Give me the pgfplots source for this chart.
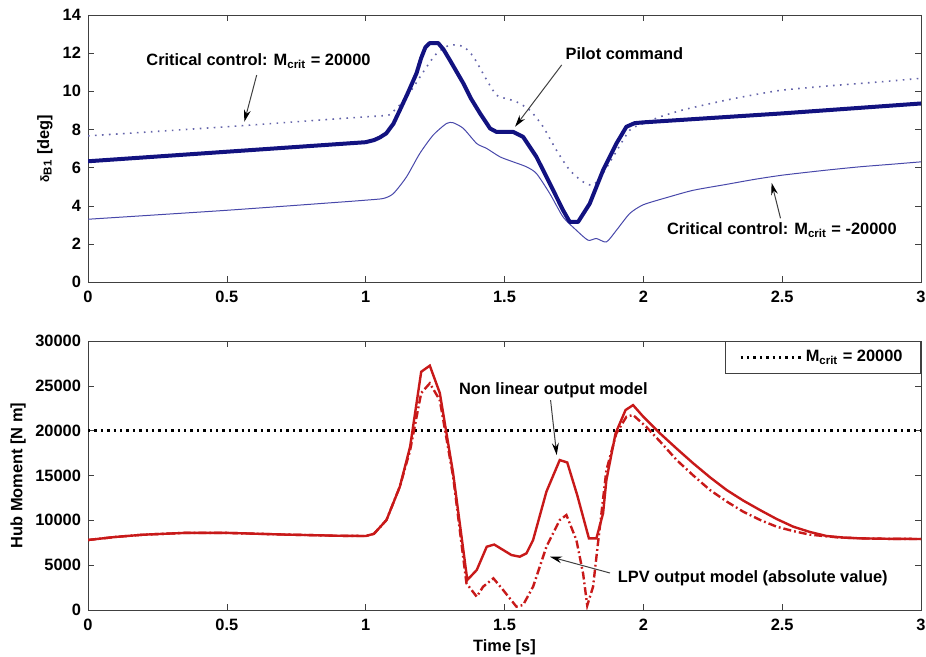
\documentclass[border=0pt]{standalone}
\usepackage{fontspec}
\setmainfont{Liberation Sans}
\usepackage{pgfplots}
\pgfplotsset{compat=1.18}
\usetikzlibrary{arrows.meta}

\definecolor{pilot}{RGB}{18,18,128}
\definecolor{thinb}{RGB}{72,72,170}
\definecolor{dotb}{RGB}{100,100,170}
\definecolor{hubred}{RGB}{200,25,25}

\newcommand{\lbl}{\fontsize{8.2}{9.5}\selectfont\bfseries}

\tikzset{
  arr/.style={draw=black!75, line width=0.5pt, -{Stealth[length=6pt,width=3.4pt,black]}},
}
\pgfplotsset{
  mstyle/.style={
    scale only axis,
    xmin=0, xmax=3,
    xtick={0,0.5,1,1.5,2,2.5,3},
    tick pos=both,
    tick align=inside,
    major tick length=3pt,
    axis line style={black!75},
    tick style={black!75},
    tick label style={font=\lbl},
    label style={font=\lbl},
    /pgf/number format/assume math mode=true,
    scaled y ticks=false,
    yticklabel style={/pgf/number format/.cd, fixed, 1000 sep={}},
    xticklabel style={yshift=-1pt},
  },
}

\begin{document}
\begin{tikzpicture}
\path[use as bounding box] (0pt,0pt) rectangle (463pt,328.5pt);

% upper panel: blade angle
\begin{axis}[mstyle,
  at={(44pt,187.5pt)}, anchor=south west,
  width=416.5pt, height=133.5pt,
  ymin=0, ymax=14, ytick={0,2,...,14},
  ylabel={{\fontsize{6}{7}\selectfont δ}\textsubscript{B1} [deg]},
  ylabel style={at={(axis description cs:-0.0516,0.5)}, anchor=center},
]
\addplot[dotb, line width=0.8pt, dash pattern=on 0.8pt off 2.7pt, smooth, tension=0.4] coordinates {
(0,7.66) (0.5,8.14) (0.9,8.56) (1.0,8.66) (1.083,8.75) (1.1,8.95) (1.13,9.4) (1.16,9.95)
(1.22,11.29) (1.256,11.99) (1.303,12.42) (1.352,12.34) (1.388,11.81) (1.436,10.59)
(1.471,9.8) (1.51,9.6) (1.543,9.45) (1.591,9.01) (1.639,8.14) (1.687,6.91)
(1.735,5.86) (1.783,5.25) (1.819,5.08) (1.855,5.7) (1.891,6.56) (1.951,7.96)
(2.0,8.3) (2.06,8.66) (2.15,9.05) (2.3,9.54) (2.4,9.82) (2.5,10.06) (2.65,10.26)
(2.78,10.41) (2.9,10.55) (3.0,10.68)
};
\addplot[thinb, line width=0.5pt, smooth, tension=0.4] coordinates {
(0,3.29) (0.5,3.76) (0.9,4.18) (1.0,4.29) (1.064,4.38) (1.1,4.64) (1.147,5.51) (1.195,6.74)
(1.243,7.7) (1.291,8.31) (1.315,8.35) (1.352,8.05) (1.4,7.26) (1.436,7.0)
(1.484,6.56) (1.531,6.3) (1.579,6.04) (1.615,5.69) (1.663,4.64) (1.711,3.41)
(1.759,2.71) (1.801,2.19) (1.831,2.28) (1.867,2.1) (1.903,2.71) (1.951,3.59)
(2.0,4.05) (2.09,4.45) (2.18,4.81) (2.3,5.12) (2.4,5.38) (2.5,5.6) (2.65,5.85)
(2.78,6.04) (2.9,6.18) (3.0,6.3)
};
\addplot[pilot, line width=2pt, line join=round] coordinates {
(0,6.33) (1.0,7.33) (1.03,7.44) (1.05,7.57) (1.074,7.79) (1.1,8.3) (1.123,9.01)
(1.15,9.85) (1.183,10.94) (1.2,11.75) (1.215,12.3) (1.231,12.53) (1.261,12.53)
(1.28,12.2) (1.303,11.64) (1.352,10.41) (1.38,9.6) (1.412,8.84) (1.448,8.05)
(1.471,7.87) (1.531,7.87) (1.567,7.61) (1.615,6.56) (1.663,5.17) (1.711,3.76)
(1.735,3.15) (1.765,3.15) (1.807,4.11) (1.855,5.86) (1.903,7.26) (1.939,8.14)
(1.969,8.33) (2.0,8.37) (2.5,8.84) (3.0,9.36)
};
\node[font=\lbl] at (axis cs:0.614,11.59) {Critical control: M\textsubscript{crit} = 20000};
\draw[arr] (axis cs:0.6075,10.85) -- (axis cs:0.563,8.40);
\node[font=\lbl] at (axis cs:1.932,11.95) {Pilot command};
\draw[arr] (axis cs:1.706,11.38) -- (axis cs:1.538,8.14);
\node[font=\lbl] at (axis cs:2.499,2.71) {Critical control: M\textsubscript{crit} = -20000};
\draw[arr] (axis cs:2.494,3.34) -- (axis cs:2.462,5.2);
\end{axis}

% lower panel: hub moment
\begin{axis}[mstyle,
  at={(44pt,23.5pt)}, anchor=south west,
  width=416.5pt, height=134.5pt,
  ymin=0, ymax=30000, ytick={0,5000,...,30000},
  ylabel={Hub Moment [N m]},
  ylabel style={at={(axis description cs:-0.084,0.5)}, anchor=center},
  xlabel={Time [s]},
  xlabel style={at={(axis description cs:0.5,-0.137)}, anchor=center},
  legend style={at={(1,1)}, anchor=north east, draw=black!75, fill=white,
    font=\lbl, inner xsep=7pt, inner ysep=2.5pt},
  legend cell align=left,
  legend image code/.code={\draw[#1] (0pt,0pt) -- (30pt,0pt);},
]
\addplot[black, line width=1.2pt, dash pattern=on 1.2pt off 2pt] coordinates {(0,20000) (3,20000)};
\addlegendentry{M\textsubscript{crit} = 20000}
\addplot[hubred, line width=1.2pt, dash pattern=on 4pt off 1.5pt on 0.9pt off 1.5pt, forget plot] coordinates {
(0,7805) (0.1,8150) (0.2,8400) (0.35,8600) (0.5,8600) (0.7,8420) (0.9,8280)
(1.0,8250) (1.03,8500) (1.075,10035) (1.123,13750) (1.16,17800) (1.2,24200)
(1.231,25280) (1.267,23400) (1.315,14860) (1.363,2975) (1.4,1480) (1.423,2600)
(1.46,3530) (1.495,2230) (1.543,370) (1.567,560) (1.603,2600) (1.651,7060)
(1.699,10035) (1.723,10590) (1.759,7800) (1.783,4090) (1.798,500) (1.819,2600)
(1.835,7000) (1.867,15600) (1.903,19700) (1.939,21550) (1.963,21750)
(2.01,20440) (2.06,18800) (2.12,16725) (2.18,15000) (2.24,13380) (2.3,12100)
(2.36,10960) (2.42,10050) (2.48,9290) (2.54,8800) (2.6,8400) (2.7,8100)
(2.78,7990) (2.9,7930) (3.0,7920)
};
\addplot[hubred, line width=1.2pt, forget plot] coordinates {
(0,7805) (0.1,8150) (0.2,8400) (0.35,8600) (0.5,8600) (0.7,8420) (0.9,8280)
(1.0,8250) (1.03,8500) (1.075,10035) (1.123,13750) (1.16,18200) (1.2,26570)
(1.231,27250) (1.267,24200) (1.315,15240) (1.366,3345) (1.4,4460) (1.436,7060)
(1.463,7300) (1.525,6130) (1.555,5945) (1.579,6320) (1.603,7805) (1.651,13200)
(1.699,16725) (1.726,16450) (1.762,12800) (1.804,7990) (1.831,7990)
(1.855,10780) (1.867,14500) (1.9,19700) (1.936,22300) (1.963,22850)
(2.0,21550) (2.06,19700) (2.12,18000) (2.18,16350) (2.24,14800) (2.3,13380)
(2.36,12200) (2.42,11150) (2.48,10150) (2.54,9290) (2.6,8700) (2.66,8250)
(2.72,8080) (2.78,7990) (2.9,7930) (3.0,7920)
};
\node[font=\lbl] at (axis cs:1.676,24530) {Non linear output model};
\draw[arr] (axis cs:1.666,23400) -- (axis cs:1.688,17280);
\node[font=\lbl] at (axis cs:2.394,3570) {LPV output model (absolute value)};
\draw[arr] (axis cs:1.88,4125) -- (axis cs:1.664,5940);
\end{axis}
\end{tikzpicture}
\end{document}
